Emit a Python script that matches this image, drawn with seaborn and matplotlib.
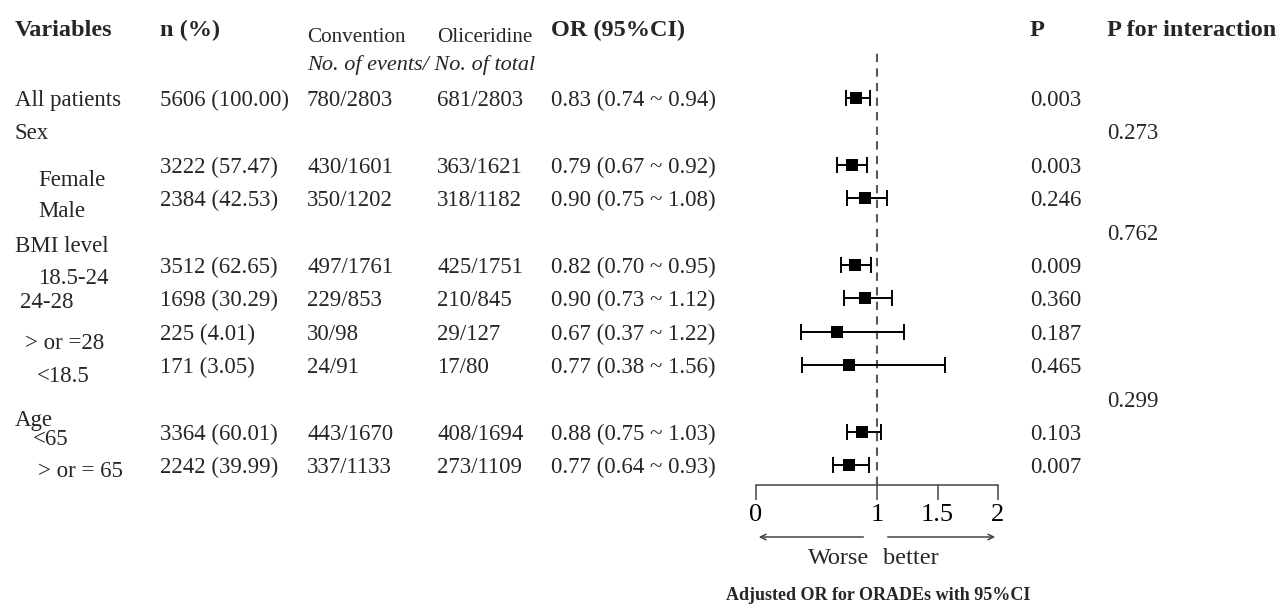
import numpy as np
import pandas as pd
import matplotlib
matplotlib.use("Agg")
import matplotlib.pyplot as plt
import matplotlib.transforms as mtransforms
import seaborn as sns

# Datos de la tabla
variables = ["All patients", "Sex", "Female", "Male", "BMI level", "18.5-24", "24-28",
             "> or =28", "<18.5", "Age", "<65", "> or = 65"]
n_pct = ["5606 (100.00)", "", "3222 (57.47)", "2384 (42.53)", "", "3512 (62.65)",
         "1698 (30.29)", "225 (4.01)", "171 (3.05)", "", "3364 (60.01)", "2242 (39.99)"]
convention = ["780/2803", "", "430/1601", "350/1202", "", "497/1761", "229/853",
              "30/98", "24/91", "", "443/1670", "337/1133"]
oliceridine = ["681/2803", "", "363/1621", "318/1182", "", "425/1751", "210/845",
               "29/127", "17/80", "", "408/1694", "273/1109"]
or_est = [0.83, np.nan, 0.79, 0.90, np.nan, 0.82, 0.90, 0.67, 0.77, np.nan, 0.88, 0.77]
ci_low = [0.74, np.nan, 0.67, 0.75, np.nan, 0.70, 0.73, 0.37, 0.38, np.nan, 0.75, 0.64]
ci_high = [0.94, np.nan, 0.92, 1.08, np.nan, 0.95, 1.12, 1.22, 1.56, np.nan, 1.03, 0.93]
p_value = ["0.003", "", "0.003", "0.246", "", "0.009", "0.360", "0.187", "0.465", "",
           "0.103", "0.007"]
p_interaction = ["", "0.273", "", "", "0.762", "", "", "", "", "0.299", "", ""]

# Posición de las etiquetas (desplazamiento horizontal en px y vertical en filas)
label_x = [15, 15, 38, 38, 15, 38, 20, 25, 37, 15, 33, 38]
label_dy = [0, 0, 0.4, 0.33, 0.36, 0.33, 0.06, 0.27, 0.27, 0.57, 0.15, 0.1]

df = pd.DataFrame({"row": np.arange(len(variables)), "or": or_est,
                   "lo": ci_low, "hi": ci_high})

W, H = 1283, 604
sns.set_style("white")
plt.rcParams["font.family"] = ["Liberation Serif", "DejaVu Serif"]

fig = plt.figure(figsize=(W / 100, H / 100), dpi=100)
ax = fig.add_axes([756 / W, 1 - 485 / H, 242 / W, 437 / H])

# Se dibujan los intervalos de confianza
d = df.dropna()
ax.errorbar(d["or"], d["row"], xerr=[d["or"] - d["lo"], d["hi"] - d["or"]],
            fmt="none", ecolor="black", elinewidth=1.4, capsize=6, capthick=1.4,
            zorder=2, clip_on=False)
sns.scatterplot(data=d, x="or", y="row", marker="s", s=80, color="black",
                edgecolor="black", linewidth=0, ax=ax, zorder=3, clip_on=False)
ax.axvline(1, color="#4e5b63", lw=1.5, ls=(0, (4, 3)), zorder=1)

ax.set_xlim(0, 2)
ax.set_ylim(11.59, -1.5)
ax.set_xlabel("")
ax.set_ylabel("")
ax.set_yticks([])
ax.set_xticks([0, 1, 1.5, 2])
ax.set_xticklabels(["0", "1", "1.5", "2"], fontsize=19)
ax.tick_params(axis="x", bottom=True, direction="out", length=11, width=1.1,
               pad=3, colors="black", color="#444444")
for s in ["left", "top", "right"]:
    ax.spines[s].set_visible(False)
ax.spines["bottom"].set_linewidth(1.1)
ax.spines["bottom"].set_color("#444444")
ax.patch.set_alpha(0)

# Flechas y texto bajo el eje
xt = ax.get_xaxis_transform()
ax.annotate("", xy=(0, -0.119), xytext=(0.91, -0.119), xycoords=xt, textcoords=xt,
            arrowprops=dict(arrowstyle="->", color="#444444", lw=1.1))
ax.annotate("", xy=(2, -0.119), xytext=(1.066, -0.119), xycoords=xt, textcoords=xt,
            arrowprops=dict(arrowstyle="->", color="#444444", lw=1.1))
ax.text(0.686, -0.163, "Worse", transform=xt, ha="center", va="center_baseline",
        fontsize=17.5)
ax.text(1.28, -0.163, "better", transform=xt, ha="center", va="center_baseline",
        fontsize=17.5)
fig.text(878 / W, 1 - 594 / H, "Adjusted OR for ORADEs with 95%CI", ha="center",
         va="center_baseline", fontsize=13, fontweight="bold")

# Encabezados
hy = 1 - 28 / H
hb = dict(fontsize=17.5, fontweight="bold", va="center_baseline")
fig.text(15 / W, hy, "Variables", **hb)
fig.text(160 / W, hy, "n (%)", **hb)
fig.text(307 / W, 1 - 35 / H, "Convention", fontsize=15.2, va="center_baseline")
fig.text(437 / W, 1 - 35 / H, "Oliceridine", fontsize=15.2, va="center_baseline")
fig.text(307 / W, 1 - 63 / H, "No. of events/ No. of total", fontsize=16,
         style="italic", va="center_baseline")
fig.text(551 / W, hy, "OR (95%CI)", **hb)
fig.text(1030 / W, hy, "P", **hb)
fig.text(1107 / W, hy, "P for interaction", **hb)

# Columnas de la tabla
tr = mtransforms.blended_transform_factory(fig.transFigure, ax.transData)
kw = dict(transform=tr, fontsize=16.5, va="center_baseline")
for i in range(len(variables)):
    fig.text(label_x[i] / W, i + label_dy[i], variables[i], **kw)
    fig.text(160 / W, i, n_pct[i], **kw)
    fig.text(307 / W, i, convention[i], **kw)
    fig.text(437 / W, i, oliceridine[i], **kw)
    if not np.isnan(or_est[i]):
        txt = f"{or_est[i]:.2f} ({ci_low[i]:.2f} ~ {ci_high[i]:.2f})"
        fig.text(551 / W, i, txt, **kw)
    fig.text(1030 / W, i, p_value[i], **kw)
    fig.text(1107 / W, i, p_interaction[i], **kw)

fig.savefig("out.png", dpi=100)
